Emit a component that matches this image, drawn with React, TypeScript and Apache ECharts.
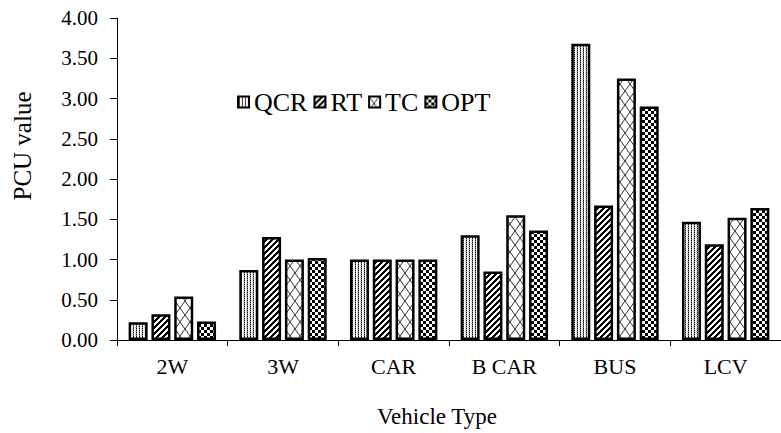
import React, { useEffect, useRef } from "react";
import * as echarts from "echarts";

const categories = ["2W", "3W", "CAR", "B CAR", "BUS", "LCV"];
const seriesNames = ["QCR", "RT", "TC", "OPT"];
const qcrValues = [0.22, 0.87, 1.0, 1.3, 3.68, 1.47];
const rtValues = [0.32, 1.28, 1.0, 0.85, 1.67, 1.19];
const tcValues = [0.54, 1.0, 1.0, 1.55, 3.25, 1.52];
const optValues = [0.23, 1.02, 1.0, 1.36, 2.9, 1.64];
const yTicks = { min: 0, max: 4, interval: 0.5 };

const FONT = "Liberation Serif";

function makeTile(w: number, h: number, draw: (ctx: CanvasRenderingContext2D) => void) {
  const c = document.createElement("canvas");
  c.width = w;
  c.height = h;
  const ctx = c.getContext("2d")!;
  ctx.fillStyle = "#fff";
  ctx.fillRect(0, 0, w, h);
  draw(ctx);
  return { image: c, repeat: "repeat", imageWidth: w, imageHeight: h } as any;
}

function patterns() {
  const qcr = makeTile(3, 2, (ctx) => {
    ctx.fillStyle = "#000";
    ctx.fillRect(1, 0, 1, 1);
    ctx.fillStyle = "#888";
    ctx.fillRect(1, 1, 1, 1);
    ctx.fillStyle = "#ccc";
    ctx.fillRect(0, 1, 1, 1);
  });
  const rt = makeTile(6, 6, (ctx) => {
    ctx.fillStyle = "#000";
    for (let x = 0; x < 6; x++)
      for (let y = 0; y < 6; y++) if ((x + y) % 6 < 3) ctx.fillRect(x, y, 1, 1);
  });
  const tc = makeTile(10, 14, (ctx) => {
    ctx.strokeStyle = "#333";
    ctx.lineWidth = 1;
    ctx.beginPath();
    ctx.moveTo(0, 0);
    ctx.lineTo(10, 14);
    ctx.moveTo(10, 0);
    ctx.lineTo(0, 14);
    ctx.stroke();
  });
  const opt = makeTile(6, 6, (ctx) => {
    ctx.fillStyle = "#000";
    ctx.fillRect(0, 0, 3, 3);
    ctx.fillRect(3, 3, 3, 3);
  });
  return [qcr, rt, tc, opt];
}

export default function App() {
  const ref = useRef<HTMLDivElement>(null);
  useEffect(() => {
    if (!ref.current) return;
    const chart = echarts.init(ref.current, null, { renderer: "svg" });
    const pats = patterns();
    const data = [qcrValues, rtValues, tcValues, optValues];
    chart.setOption({
      animation: false,
      backgroundColor: "#fff",
      textStyle: { fontFamily: FONT, color: "#000" },
      grid: { left: 117, top: 18, width: 672, bottom: 93 },
      legend: {
        data: seriesNames,
        left: 232,
        top: 84,
        itemWidth: 11,
        itemHeight: 11,
        itemGap: 6,
        icon: "rect",
        textStyle: { fontFamily: FONT, fontSize: 26, color: "#000" },
      },
      xAxis: {
        type: "category",
        data: categories,
        axisLine: { lineStyle: { color: "#000", width: 1 } },
        axisTick: { show: true, length: 6, lineStyle: { color: "#000" } },
        axisLabel: { fontFamily: FONT, fontSize: 22, color: "#000", margin: 15 },
      },
      yAxis: {
        type: "value",
        min: yTicks.min,
        max: yTicks.max,
        interval: yTicks.interval,
        splitLine: { show: false },
        axisLine: { show: true, lineStyle: { color: "#000", width: 1 } },
        axisTick: { show: true, length: 7, lineStyle: { color: "#000" } },
        axisLabel: {
          fontFamily: FONT,
          fontSize: 21,
          color: "#000",
          margin: 19,
          formatter: (v: number) => v.toFixed(2),
        },
      },
      graphic: [
        {
          type: "text",
          x: 22,
          y: 146,
          rotation: Math.PI / 2,
          style: {
            text: "PCU value",
            fontFamily: FONT,
            fontSize: 25,
            fill: "#000",
            align: "center",
            verticalAlign: "middle",
          },
        },
        {
          type: "text",
          x: 437,
          y: 416,
          style: {
            text: "Vehicle Type",
            fontFamily: FONT,
            fontSize: 23,
            fill: "#000",
            align: "center",
            verticalAlign: "middle",
          },
        },
      ],
      series: seriesNames.map((name, i) => ({
        name,
        type: "bar",
        data: data[i],
        barWidth: 19,
        barGap: "20%",
        itemStyle: { color: pats[i], borderColor: "#000", borderWidth: 2.5 },
      })),
    });
    return () => chart.dispose();
  }, []);
  return (
    <div
      ref={ref}
      style={{ position: "fixed", left: 0, top: 0, width: 781, height: 433, background: "#fff" }}
    />
  );
}
